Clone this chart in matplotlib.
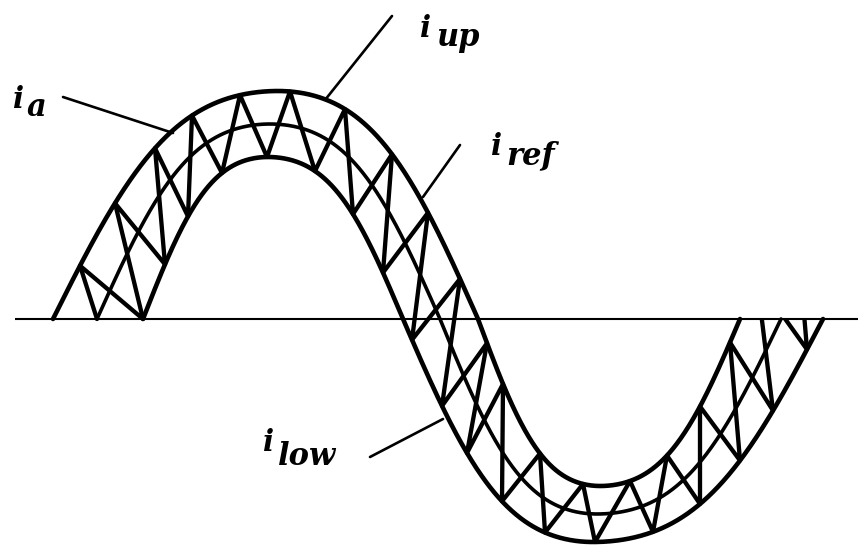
import numpy as np
import matplotlib
matplotlib.use("Agg")
import matplotlib.pyplot as plt
from matplotlib.patches import Polygon

# Horizontal positions (time axis) of zero crossings and crests/troughs,
# in the order: zero, crest, zero, trough, zero
ref_knots = [97, 270, 440, 597, 781]
up_knots = [53, 278, 478, 600, 740]
low_knots = [143, 268, 403, 593, 823]

# crest / trough heights of each curve
ref_peak, ref_trough = 195, -195
up_peak, up_trough = 228, -167
low_peak, low_trough = 162, -223

# flat-topped waveform shape (third-harmonic content)
shape_k = 0.06

# hysteresis switching instants of the phase current i_a:
# start on the reference zero crossing, then alternate upper / lower band
ia_start = 97
ia_switch = [80, 143, 115, 165, 155, 188, 192, 222, 240, 267, 290, 315,
             345, 353, 392, 383, 428, 412, 460, 442, 487, 467, 503, 502,
             540, 545, 583, 595, 630, 653, 667, 700, 700, 740, 730, 773,
             757, 807, 795]


def shape(phi):
    return (np.sin(phi) + shape_k * np.sin(3 * phi)) / (1 - shape_k)


def wave(x, knots, peak, trough):
    x = np.atleast_1d(np.asarray(x, dtype=float))
    y = np.zeros_like(x)
    for i in range(4):
        a, b = knots[i], knots[i + 1]
        m = (x >= a) & (x <= b) if i == 3 else (x >= a) & (x < b)
        t = (x[m] - a) / (b - a)
        phi = (i + t) * np.pi / 2
        amp = peak if i < 2 else -trough
        y[m] = amp * shape(phi)
    # continue the end quarters outside the knot range
    lo = x < knots[0]
    hi = x > knots[-1]
    if lo.any():
        t = (x[lo] - knots[0]) / (knots[1] - knots[0])
        y[lo] = peak * shape(t * np.pi / 2)
    if hi.any():
        t = (x[hi] - knots[3]) / (knots[4] - knots[3])
        y[hi] = -trough * shape(np.pi * 1.5 + t * np.pi / 2)
    return y


fig = plt.figure(figsize=(8.58, 5.46), dpi=100)
ax = fig.add_axes([0, 0, 1, 1])
ax.set_xlim(0, 858)
ax.set_ylim(-227, 319)
ax.axis("off")

ink = "black"

# time axis
ax.plot([15, 858], [0, 0], color=ink, lw=1.5, solid_capstyle="butt")

# hysteresis band edges and reference current
xs_up = np.linspace(up_knots[0], up_knots[-1], 800)
xs_low = np.linspace(low_knots[0], low_knots[-1], 800)
xs_ref = np.linspace(ref_knots[0], ref_knots[-1], 800)
ax.plot(xs_up, wave(xs_up, up_knots, up_peak, up_trough), color=ink, lw=3.3,
        solid_capstyle="round")
ax.plot(xs_low, wave(xs_low, low_knots, low_peak, low_trough), color=ink,
        lw=3.3, solid_capstyle="round")
ax.plot(xs_ref, wave(xs_ref, ref_knots, ref_peak, ref_trough), color=ink,
        lw=2.6, solid_capstyle="round")

# phase current zig-zag between the band edges
zx = [ia_start]
zy = [float(wave(ia_start, ref_knots, ref_peak, ref_trough)[0])]
for j, sx in enumerate(ia_switch):
    if j % 2 == 0:
        zy.append(float(wave(sx, up_knots, up_peak, up_trough)[0]))
    else:
        zy.append(float(wave(sx, low_knots, low_peak, low_trough)[0]))
    zx.append(sx)
(zig,) = ax.plot(zx, zy, color=ink, lw=3.1, solid_joinstyle="round",
                 solid_capstyle="round")
clip = Polygon([(0, 400), (620, 400), (620, 0), (858, 0), (858, -400),
                (0, -400)], closed=True, transform=ax.transData,
               facecolor="none", edgecolor="none")
ax.add_patch(clip)
zig.set_clip_path(clip)


# labels with leader lines (pixel row -> y = 319 - row)
def row(r):
    return 319 - r


lab = dict(family="DejaVu Serif", style="italic", weight="bold",
           color=ink, va="baseline", ha="left")


def label(x, r, main, sub, dx, drop, size=21, subsize=22):
    ax.text(x, row(r), main, fontsize=size, **lab)
    ax.text(x + dx, row(r + drop), sub, fontsize=subsize, **lab)


label(13, 108, "i", "a", 14, 8)
label(420, 37, "i", "up", 16, 9)
label(491, 155, "i", "ref", 15, 9)
label(263, 451, "i", "low", 15, 14)

leaders = [((63, 97), (173, 133)),
           ((392, 16), (325, 100)),
           ((460, 145), (423, 197)),
           ((370, 457), (443, 419))]
for (x0, r0), (x1, r1) in leaders:
    ax.plot([x0, x1], [row(r0), row(r1)], color=ink, lw=1.9,
            solid_capstyle="round")

fig.savefig("out.png", dpi=100, facecolor="white")
